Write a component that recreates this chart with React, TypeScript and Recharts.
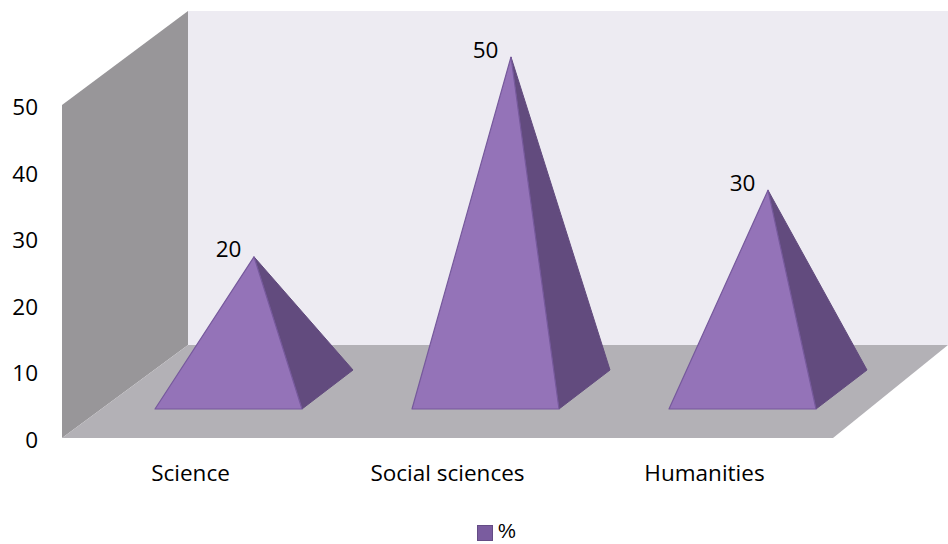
import React from 'react';
import { ComposedChart, Bar, XAxis, YAxis, Legend, LabelList } from 'recharts';

const categories = ['Science', 'Social sciences', 'Humanities'];
const percentValues = [20, 50, 30];
const yTicks = [0, 10, 20, 30, 40, 50];

const rows = categories.map((name, i) => ({ name, pct: percentValues[i] }));

const W = 948;
const H = 544;
const LEFT = 62;
const RIGHT = 833;
const TOP = 105;
const BOTTOM = 438;
const DEPTH_X = 126;
const DEPTH_Y = 93;
const FONT = '"Open Sans", sans-serif';
const FRONT = '#9473b8';
const SIDE = '#624b7e';
const EDGE = '#76599c';

const Pyramid = (props: any) => {
  const { x, y, width, height } = props;
  const left = x + 38;
  const right = left + width;
  const baseY = y + height - 29;
  const apexX = left + 99;
  const apexY = y - 48;
  return (
    <g>
      <polygon points={`${right},${baseY} ${right + 51},${baseY - 39} ${apexX},${apexY}`} fill={SIDE} stroke={SIDE} strokeWidth={1} strokeLinejoin="round" />
      <polygon points={`${left},${baseY} ${right},${baseY} ${apexX},${apexY}`} fill={FRONT} stroke={EDGE} strokeWidth={1.2} strokeLinejoin="round" />
    </g>
  );
};

const ValueLabel = (props: any) => {
  const { x, y, value } = props;
  return (
    <text x={x + 38 + 100 - 26.5} y={y - 48 - 8} textAnchor="middle" dominantBaseline="central" fontFamily={FONT} fontSize={22.5} fill="#000">
      {value}
    </text>
  );
};

const LegendBox = () => (
  <div style={{ position: 'relative', height: 46, width: W }}>
    <div style={{ position: 'absolute', left: 477, top: 27, width: 16, height: 16, background: '#7a5c9f', border: '1px solid #644c85', boxSizing: 'border-box' }} />
    <div style={{ position: 'absolute', left: 498, top: 22, fontFamily: '"Liberation Sans", sans-serif', fontSize: 20, color: '#000', lineHeight: '23px', height: 23 }}>%</div>
  </div>
);

export default function App() {
  return (
    <div style={{ position: 'absolute', left: 0, top: 0, width: W, height: H, background: '#fff' }}>
      <ComposedChart
        width={W}
        height={H}
        data={rows}
        margin={{ top: TOP, right: W - RIGHT, bottom: 0, left: 0 }}
      >
        <polygon points={`${LEFT + DEPTH_X},${TOP - DEPTH_Y - 1} ${W},${TOP - DEPTH_Y - 1} ${W},${BOTTOM - DEPTH_Y} ${LEFT + DEPTH_X},${BOTTOM - DEPTH_Y}`} fill="#edebf2" />
        <polygon points={`${LEFT},${TOP} ${LEFT + DEPTH_X},${TOP - DEPTH_Y - 1} ${LEFT + DEPTH_X},${BOTTOM - DEPTH_Y} ${LEFT},${BOTTOM}`} fill="#989699" />
        <polygon points={`${LEFT},${BOTTOM} ${LEFT + DEPTH_X},${BOTTOM - DEPTH_Y} ${W},${BOTTOM - DEPTH_Y} ${RIGHT},${BOTTOM}`} fill="#b3b1b6" />
        <XAxis
          dataKey="name"
          height={60}
          axisLine={false}
          tickLine={false}
          tickSize={0}
          tickMargin={27}
          interval={0}
          tick={{ fontFamily: FONT, fontSize: 22.5, fill: '#000' }}
        />
        <YAxis
          width={LEFT}
          domain={[0, 50]}
          ticks={yTicks}
          axisLine={false}
          tickLine={false}
          tickSize={0}
          tickMargin={24}
          tick={{ fontFamily: FONT, fontSize: 22.5, fill: '#000', dy: 2 }}
        />
        <Legend verticalAlign="bottom" height={46} content={<LegendBox />} />
        <Bar dataKey="pct" barSize={147} isAnimationActive={false} shape={<Pyramid />} fill={FRONT}>
          <LabelList dataKey="pct" content={<ValueLabel />} />
        </Bar>
      </ComposedChart>
    </div>
  );
}
